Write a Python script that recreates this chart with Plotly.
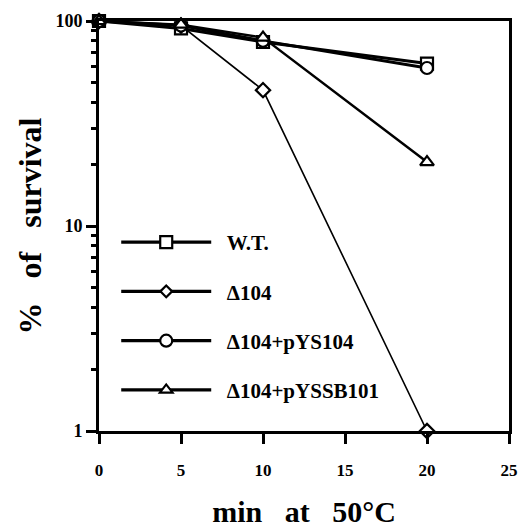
import plotly.graph_objects as go

minutes = [0, 5, 10, 20]
wt = [100, 92, 79, 62]
d104 = [100, 95, 46, 1]
d104_pys104 = [100, 95, 80, 59]
d104_pyssb101 = [100, 96, 83, 20.5]

x_ticks = [0, 5, 10, 15, 20, 25]
y_ticks = [1, 10, 100]
y_minor = [2, 3, 4, 5, 6, 7, 8, 9, 20, 30, 40, 50, 60, 70, 80, 90]

series = [
    ("W.T.", wt, "square", 12, 3),
    ("\u0394104", d104, "diamond", 11, 1.6),
    ("\u0394104+pYS104", d104_pys104, "circle", 12, 3),
    ("\u0394104+pYSSB101", d104_pyssb101, "triangle-up", 12, 2.5),
]
legend_marker_size = {"square": 12, "diamond": 9, "circle": 12, "triangle-up": 11}

fig = go.Figure()
for i, (name, vals, sym, size, lw) in enumerate(series):
    fig.add_trace(go.Scatter(
        x=minutes, y=vals, name=name, mode="lines+markers",
        line=dict(color="black", width=lw),
        marker=dict(symbol=sym, size=size, color="white",
                    line=dict(color="black", width=2.2)),
        cliponaxis=False, showlegend=False,
    ))
# legend entries (all drawn with the heavy line used in the key)
for i, (name, vals, sym, size, lw) in enumerate(series):
    fig.add_trace(go.Scatter(
        x=[None], y=[None], name="\u00a0\u00a0" + name, mode="lines+markers",
        line=dict(color="black", width=3.2),
        marker=dict(symbol=sym, size=legend_marker_size[sym], color="white",
                    line=dict(color="black", width=2.2)),
        legendgroup=str(i), showlegend=True,
    ))

font = "Liberation Serif, Times New Roman, serif"
sp = "\u00a0"
fig.update_layout(
    width=519, height=528,
    margin=dict(l=99, r=10, t=21, b=97, autoexpand=False),
    plot_bgcolor="white", paper_bgcolor="white",
    font=dict(family=font, color="black"),
    showlegend=True,
    legend=dict(x=0.042, y=0.51, xanchor="left", yanchor="top",
                bgcolor="rgba(0,0,0,0)", itemwidth=90,
                tracegroupgap=19,
                font=dict(family=font, size=21, color="black", weight="bold")),
    xaxis=dict(range=[0, 25], tickvals=x_ticks, showgrid=False, zeroline=False,
               showline=True, linecolor="black", linewidth=3, mirror=True,
               ticks="outside", ticklen=10, tickwidth=3, tickcolor="black",
               ticklabelstandoff=12,
               tickfont=dict(family=font, size=17, weight="bold"),
               title=dict(text=sp * 5 + "min" + sp * 3 + "at" + sp * 3 + "50\u00b0C",
                          standoff=25,
                          font=dict(family=font, size=30, weight="bold"))),
    yaxis=dict(type="log", range=[0, 2], tickvals=y_ticks, ticktext=["1", "10", "100"],
               showgrid=False, zeroline=False,
               showline=True, linecolor="black", linewidth=3, mirror=True,
               ticks="outside", ticklen=10, tickwidth=3, tickcolor="black",
               tickfont=dict(family=font, size=18, weight="bold"),
               minor=dict(tickvals=y_minor, ticks="outside", ticklen=5,
                          tickwidth=2.5, tickcolor="black", showgrid=False),
               title=dict(text="%" + sp * 3 + "of" + sp * 3 + "survival", standoff=5,
                          font=dict(family=font, size=32, weight="bold"))),
)

fig.write_html("out.html", config={"displayModeBar": False},
               post_script="document.body.style.margin='0';")
